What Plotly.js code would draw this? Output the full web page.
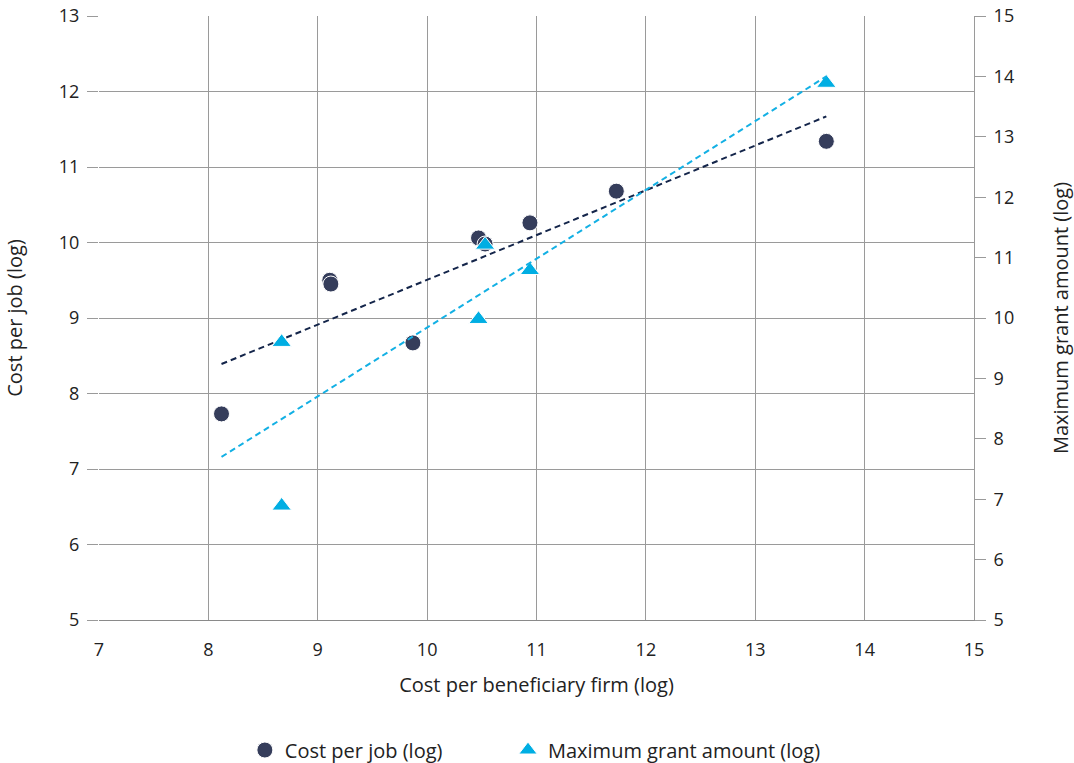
<!DOCTYPE html>
<html>
<head>
<meta charset="utf-8">
<script src="https://cdn.plot.ly/plotly-3.0.1.min.js"></script>
<style>html,body{margin:0;padding:0;background:#fff;}#chart{width:1074px;height:763px;}</style>
</head>
<body>
<div id="chart"></div>
<script>
// Cost per job (log) vs cost per beneficiary firm (log) — left axis
const jobX = [8.12, 9.11, 9.12, 9.87, 10.47, 10.53, 10.94, 11.73, 13.65];
const jobY = [7.73, 9.50, 9.45, 8.67, 10.06, 9.98, 10.26, 10.68, 11.34];
// Maximum grant amount (log) — right axis
const grantX = [8.67, 8.67, 10.47, 10.53, 10.94, 13.65];
const grantY = [9.60, 6.89, 9.98, 11.21, 10.79, 13.89];
// Trend line endpoints
const jobTrendX = [8.12, 13.65];
const jobTrendY = [8.39, 11.67];
const grantTrendX = [8.12, 13.65];
const grantTrendY = [7.70, 14.00];

const font = "'Open Sans', 'Noto Sans', sans-serif";
const traces = [
  {x: jobX, y: jobY, type: 'scatter', mode: 'markers', name: 'Cost per job (log)', legend: 'legend',
   marker: {symbol: 'circle', size: 16, color: '#353d5b', line: {color: '#ffffff', width: 1}}},
  {x: jobTrendX, y: jobTrendY, type: 'scatter', mode: 'lines', showlegend: false, hoverinfo: 'skip',
   line: {color: '#14254a', width: 2, dash: '6px,4px'}},
  {x: grantX, y: grantY, type: 'scatter', mode: 'markers', name: 'Maximum grant amount (log)', yaxis: 'y2', legend: 'legend2',
   marker: {symbol: 'triangle-up', size: 17, color: '#00aee3', line: {color: '#ffffff', width: 1}}},
  {x: grantTrendX, y: grantTrendY, type: 'scatter', mode: 'lines', showlegend: false, hoverinfo: 'skip', yaxis: 'y2',
   line: {color: '#13b0e4', width: 2, dash: '6px,4px'}}
];

const legendBase = {orientation: 'h', xanchor: 'left', xref: 'container', y: 0.017, yanchor: 'middle', yref: 'container',
                    font: {size: 20, color: '#222222'}, itemwidth: 30, bgcolor: 'rgba(0,0,0,0)'};

const layout = {
  width: 1074, height: 763,
  margin: {l: 99, r: 100, t: 16, b: 143},
  paper_bgcolor: '#ffffff', plot_bgcolor: '#ffffff',
  font: {family: font, size: 18, color: '#222222'},
  showlegend: true,
  legend: Object.assign({}, legendBase, {x: 0.228}),
  legend2: Object.assign({}, legendBase, {x: 0.473}),
  xaxis: {
    range: [7, 15], dtick: 1, tick0: 7, showgrid: true, gridcolor: '#9a9a9a', gridwidth: 1,
    zeroline: false, showline: true, linecolor: '#8a8a8a', linewidth: 1, mirror: false, automargin: false,
    ticks: '', ticklen: 0, ticklabelstandoff: 13, tickfont: {size: 18}, fixedrange: true,
    title: {text: 'Cost per beneficiary firm (log)', font: {size: 20}, standoff: 18}
  },
  yaxis: {
    range: [5, 13], dtick: 1, tick0: 5, showgrid: true, gridcolor: '#9a9a9a', gridwidth: 1, automargin: false,
    zeroline: false, showline: false, ticks: 'outside', ticklen: 11, tickcolor: '#9a9a9a', tickwidth: 1,
    tickfont: {size: 18}, ticklabelstandoff: 4,
    title: {text: 'Cost per job (log)', font: {size: 20}, standoff: 30}
  },
  yaxis2: {
    range: [5, 15], dtick: 1, tick0: 5, overlaying: 'y', side: 'right', showgrid: false, automargin: false,
    zeroline: false, showline: true, linecolor: '#9a9a9a', linewidth: 1,
    ticks: 'outside', ticklen: 11, tickcolor: '#9a9a9a', tickwidth: 1, tickfont: {size: 18}, ticklabelstandoff: 4,
    title: {text: 'Maximum grant amount (log)', font: {size: 20}, standoff: 42}
  }
};

Plotly.newPlot('chart', traces, layout, {staticPlot: true, displayModeBar: false});
</script>
</body>
</html>
